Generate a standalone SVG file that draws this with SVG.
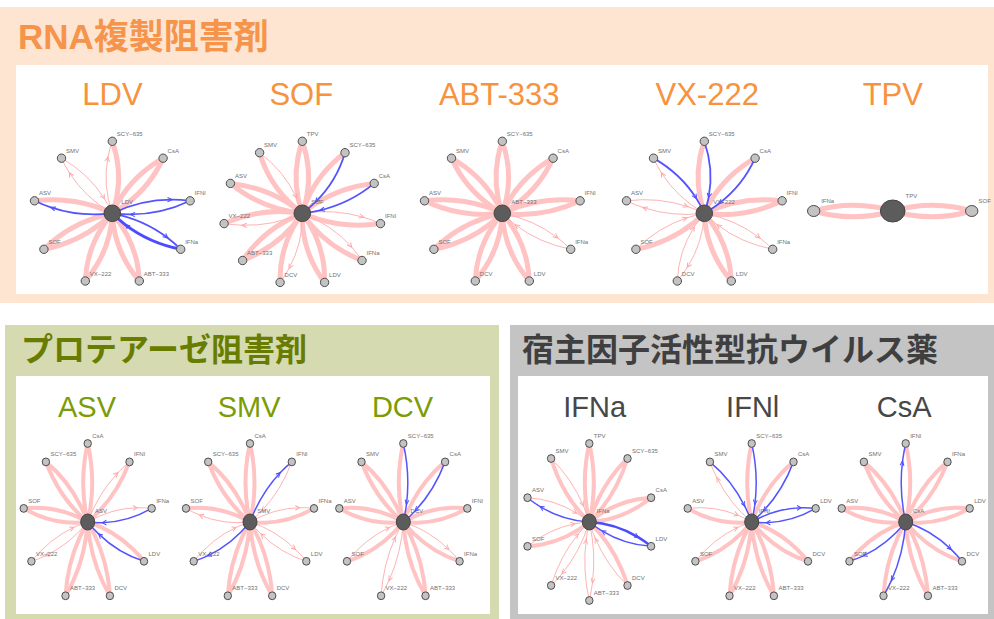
<svg xmlns="http://www.w3.org/2000/svg" width="994" height="619" viewBox="0 0 994 619">
<style>
.sec{font-family:"Liberation Sans","Noto Sans CJK JP",sans-serif;font-weight:bold}
.h{font-family:"Liberation Sans",sans-serif;text-anchor:middle}
.ho{fill:#f7923f;font-size:31px}
.hg{fill:#7c9c05;font-size:29px}
.hk{fill:#474747;font-size:29px}
.a{stroke:#ffc3c3;stroke-width:5}
.b{stroke:#ffb3b3;stroke-width:1;marker-mid:url(#mp)}
.c{stroke:#5454ff;stroke-width:1.8;marker-mid:url(#mb)}
.d{stroke:#4c4cff;stroke-width:3;marker-mid:url(#mb)}
.bot .a{stroke-width:4}
.bot .c{stroke-width:1.5}
.bot .d{stroke-width:2.5}
.pn{fill:#c3c3c3;stroke:#4d4d4d;stroke-width:1}
.cn{fill:#5c5c5c;stroke:#454545;stroke-width:1}
.nl{font-family:"Liberation Sans",sans-serif;font-size:6px;fill:#707070}
</style>
<defs>
<path id="o" d="M0,0 Q-9.36,-29.25 -4.12,-58.5 Q-2.64,-66.75 0,-75" fill="none" vector-effect="non-scaling-stroke"/>
<path id="i" d="M0,-75 Q9.36,-45.75 4.12,-16.5 Q2.64,-8.25 0,0" fill="none" vector-effect="non-scaling-stroke"/>
<path id="o2" d="M0,0 Q-7.8,-28.08 -3.43,-56.16 Q-2.2,-64.08 0,-72" fill="none" vector-effect="non-scaling-stroke"/>
<path id="i2" d="M0,-72 Q7.8,-43.92 3.43,-15.84 Q2.2,-7.92 0,0" fill="none" vector-effect="non-scaling-stroke"/>
<marker id="mp" markerUnits="userSpaceOnUse" viewBox="-6 -4 8 8" markerWidth="8" markerHeight="8" refX="0" refY="0" orient="auto" overflow="visible"><path d="M-4.5,-2.2 L0,0 L-4.5,2.2" fill="none" stroke="#ffa8a8" stroke-width="1"/></marker>
<marker id="mb" markerUnits="userSpaceOnUse" viewBox="-6 -4 8 8" markerWidth="8" markerHeight="8" refX="0" refY="0" orient="auto" overflow="visible"><path d="M-4.5,-2.2 L0,0 L-4.5,2.2" fill="none" stroke="#4c4cff" stroke-width="1"/></marker>
</defs>

<g id="panels">
<rect x="0" y="7" width="994" height="296" fill="#fde5d1"/>
<rect x="16" y="65" width="972" height="229" fill="#ffffff"/>
<rect x="5" y="325" width="494" height="294" fill="#d6dab0"/>
<rect x="16" y="376" width="474" height="238" fill="#ffffff"/>
<rect x="510" y="325" width="484" height="294" fill="#c4c4c4"/>
<rect x="518" y="376" width="470" height="238" fill="#ffffff"/>
</g>

<g id="titles">
<text class="sec" x="18" y="48.5" font-size="35" fill="#f5944a">RNA複製阻害剤</text>
<text class="sec" x="21" y="360.5" font-size="32" fill="#687c00">プロテアーゼ阻害剤</text>
<text class="sec" x="522" y="361" font-size="32" fill="#3f3f3f">宿主因子活性型抗ウイルス薬</text>
<text class="h ho" x="112.5" y="104.5">LDV</text>
<text class="h ho" x="301.3" y="104.5">SOF</text>
<text class="h ho" x="499.2" y="104.5">ABT-333</text>
<text class="h ho" x="707.2" y="104.5">VX-222</text>
<text class="h ho" x="892.8" y="104.5">TPV</text>
<text class="h hg" x="87" y="416.5">ASV</text>
<text class="h hg" x="249.2" y="416.5">SMV</text>
<text class="h hg" x="402.5" y="416.5">DCV</text>
<text class="h hk" x="594.7" y="416.5">IFNa</text>
<text class="h hk" x="752.7" y="416.5">IFNl</text>
<text class="h hk" x="904.2" y="416.5">CsA</text>
</g>

<g id="connectors">
<g id="e-ldv" transform="translate(112.3,213.3) scale(1.0533,0.96)">
<use href="#o" class="a" transform="rotate(40)"/><use href="#i" class="a" transform="rotate(40)"/>
<use href="#i" class="a"/>
<use href="#o" class="a" transform="rotate(160)"/><use href="#i" class="a" transform="rotate(160)"/>
<use href="#o" class="a" transform="rotate(200)"/><use href="#i" class="a" transform="rotate(200)"/>
<use href="#o" class="a" transform="rotate(240)"/><use href="#i" class="a" transform="rotate(240)"/>
<use href="#i" class="a" transform="rotate(280)"/>
<use href="#o" class="b"/>
<use href="#o" class="b" transform="rotate(320)"/><use href="#i" class="b" transform="rotate(320)"/>
<use href="#o" class="c" transform="rotate(80)"/><use href="#i" class="c" transform="rotate(80)"/>
<use href="#o" class="c" transform="rotate(120)"/>
<use href="#o" class="c" transform="rotate(280)"/>
<use href="#i" class="d" transform="rotate(120)"/>
</g>
<g id="e-sof" transform="translate(302.3,213.3) scale(1.0533,0.96)">
<use href="#o" class="a"/><use href="#i" class="a"/>
<use href="#o" class="a" transform="rotate(32.727)"/>
<use href="#o" class="a" transform="rotate(65.455)"/>
<use href="#i" class="a" transform="rotate(98.182)"/>
<use href="#i" class="a" transform="rotate(130.909)"/>
<use href="#o" class="a" transform="rotate(163.636)"/><use href="#i" class="a" transform="rotate(163.636)"/>
<use href="#i" class="a" transform="rotate(196.364)"/>
<use href="#o" class="a" transform="rotate(229.091)"/><use href="#i" class="a" transform="rotate(229.091)"/>
<use href="#i" class="a" transform="rotate(261.818)"/>
<use href="#o" class="a" transform="rotate(294.545)"/><use href="#i" class="a" transform="rotate(294.545)"/>
<use href="#o" class="a" transform="rotate(327.273)"/>
<use href="#o" class="b" transform="rotate(98.182)"/>
<use href="#o" class="b" transform="rotate(130.909)"/>
<use href="#o" class="b" transform="rotate(196.364)"/>
<use href="#o" class="b" transform="rotate(261.818)"/>
<use href="#i" class="b" transform="rotate(327.273)"/>
<use href="#i" class="c" transform="rotate(32.727)"/>
<use href="#i" class="c" transform="rotate(65.455)"/>
</g>
<g id="e-abt" transform="translate(502.3,213.3) scale(1.0533,0.96)">
<use href="#o" class="a"/><use href="#i" class="a"/>
<use href="#o" class="a" transform="rotate(40)"/><use href="#i" class="a" transform="rotate(40)"/>
<use href="#o" class="a" transform="rotate(80)"/><use href="#i" class="a" transform="rotate(80)"/>
<use href="#o" class="a" transform="rotate(160)"/><use href="#i" class="a" transform="rotate(160)"/>
<use href="#o" class="a" transform="rotate(200)"/><use href="#i" class="a" transform="rotate(200)"/>
<use href="#o" class="a" transform="rotate(240)"/><use href="#i" class="a" transform="rotate(240)"/>
<use href="#o" class="a" transform="rotate(280)"/><use href="#i" class="a" transform="rotate(280)"/>
<use href="#o" class="a" transform="rotate(320)"/><use href="#i" class="a" transform="rotate(320)"/>
<use href="#o" class="b" transform="rotate(120)"/><use href="#i" class="b" transform="rotate(120)"/>
</g>
<g id="e-vx" transform="translate(704.3,213.3) scale(1.0533,0.96)">
<use href="#o" class="a"/>
<use href="#o" class="a" transform="rotate(40)"/>
<use href="#o" class="a" transform="rotate(80)"/><use href="#i" class="a" transform="rotate(80)"/>
<use href="#o" class="a" transform="rotate(160)"/><use href="#i" class="a" transform="rotate(160)"/>
<use href="#o" class="a" transform="rotate(240)"/>
<use href="#o" class="b" transform="rotate(120)"/><use href="#i" class="b" transform="rotate(120)"/>
<use href="#o" class="b" transform="rotate(200)"/><use href="#i" class="b" transform="rotate(200)"/>
<use href="#i" class="b" transform="rotate(240)"/>
<use href="#o" class="b" transform="rotate(280)"/><use href="#i" class="b" transform="rotate(280)"/>
<use href="#o" class="b" transform="rotate(320)"/>
<use href="#i" class="c"/>
<use href="#i" class="c" transform="rotate(40)"/>
<use href="#i" class="c" transform="rotate(320)"/>
</g>
<g id="e-tpv" transform="translate(892.7,211) scale(1.0533,0.96)">
<use href="#o" class="a" transform="rotate(270)"/><use href="#i" class="a" transform="rotate(270)"/>
<use href="#o" class="a" transform="rotate(90)"/><use href="#i" class="a" transform="rotate(90)"/>
</g>
<g class="bot">
<g id="e-asv" transform="translate(87.7,522) scale(0.9028,1.0903)">
<use href="#o2" class="a"/><use href="#i2" class="a"/>
<use href="#i2" class="a" transform="rotate(40)"/>
<use href="#o2" class="a" transform="rotate(120)"/>
<use href="#o2" class="a" transform="rotate(160)"/><use href="#i2" class="a" transform="rotate(160)"/>
<use href="#o2" class="a" transform="rotate(200)"/><use href="#i2" class="a" transform="rotate(200)"/>
<use href="#o2" class="a" transform="rotate(280)"/><use href="#i2" class="a" transform="rotate(280)"/>
<use href="#o2" class="a" transform="rotate(320)"/><use href="#i2" class="a" transform="rotate(320)"/>
<use href="#o2" class="b" transform="rotate(40)"/>
<use href="#o2" class="b" transform="rotate(80)"/>
<use href="#o2" class="b" transform="rotate(240)"/><use href="#i2" class="b" transform="rotate(240)"/>
<use href="#i2" class="c" transform="rotate(80)"/>
<use href="#i2" class="c" transform="rotate(120)"/>
</g>
<g id="e-smv" transform="translate(250,522) scale(0.9028,1.0903)">
<use href="#o2" class="a"/><use href="#i2" class="a"/>
<use href="#i2" class="a" transform="rotate(80)"/>
<use href="#o2" class="a" transform="rotate(160)"/><use href="#i2" class="a" transform="rotate(160)"/>
<use href="#o2" class="a" transform="rotate(200)"/><use href="#i2" class="a" transform="rotate(200)"/>
<use href="#i2" class="a" transform="rotate(280)"/>
<use href="#o2" class="a" transform="rotate(320)"/><use href="#i2" class="a" transform="rotate(320)"/>
<use href="#i2" class="b" transform="rotate(40)"/>
<use href="#o2" class="b" transform="rotate(80)"/>
<use href="#o2" class="b" transform="rotate(120)"/><use href="#i2" class="b" transform="rotate(120)"/>
<use href="#i2" class="b" transform="rotate(240)"/>
<use href="#o2" class="b" transform="rotate(280)"/>
<use href="#o2" class="c" transform="rotate(40)"/>
<use href="#o2" class="c" transform="rotate(240)"/>
</g>
<g id="e-dcv" transform="translate(403.3,522) scale(0.9028,1.0903)">
<use href="#o2" class="a"/>
<use href="#o2" class="a" transform="rotate(40)"/>
<use href="#o2" class="a" transform="rotate(80)"/><use href="#i2" class="a" transform="rotate(80)"/>
<use href="#i2" class="a" transform="rotate(120)"/>
<use href="#o2" class="a" transform="rotate(160)"/><use href="#i2" class="a" transform="rotate(160)"/>
<use href="#o2" class="a" transform="rotate(240)"/>
<use href="#o2" class="a" transform="rotate(280)"/><use href="#i2" class="a" transform="rotate(280)"/>
<use href="#o2" class="a" transform="rotate(320)"/><use href="#i2" class="a" transform="rotate(320)"/>
<use href="#o2" class="b" transform="rotate(120)"/>
<use href="#o2" class="b" transform="rotate(200)"/><use href="#i2" class="b" transform="rotate(200)"/>
<use href="#i2" class="b" transform="rotate(240)"/>
<use href="#i2" class="c"/>
<use href="#i2" class="c" transform="rotate(40)"/>
</g>
<g id="e-ifna" transform="translate(589.3,522) scale(0.9028,1.0903)">
<use href="#o2" class="a"/><use href="#i2" class="a"/>
<use href="#o2" class="a" transform="rotate(36)"/><use href="#i2" class="a" transform="rotate(36)"/>
<use href="#o2" class="a" transform="rotate(72)"/><use href="#i2" class="a" transform="rotate(72)"/>
<use href="#o2" class="a" transform="rotate(144)"/>
<use href="#o2" class="a" transform="rotate(252)"/>
<use href="#o2" class="a" transform="rotate(324)"/>
<use href="#i2" class="b" transform="rotate(144)"/>
<use href="#o2" class="b" transform="rotate(180)"/><use href="#i2" class="b" transform="rotate(180)"/>
<use href="#o2" class="b" transform="rotate(216)"/><use href="#i2" class="b" transform="rotate(216)"/>
<use href="#i2" class="b" transform="rotate(252)"/>
<use href="#i2" class="b" transform="rotate(288)"/>
<use href="#i2" class="b" transform="rotate(324)"/>
<use href="#i2" class="c" transform="rotate(108)"/>
<use href="#o2" class="c" transform="rotate(288)"/>
<use href="#o2" class="d" transform="rotate(108)"/>
</g>
<g id="e-ifnl" transform="translate(751.7,522) scale(0.9028,1.0903)">
<use href="#o2" class="a"/>
<use href="#o2" class="a" transform="rotate(40)"/>
<use href="#o2" class="a" transform="rotate(120)"/><use href="#i2" class="a" transform="rotate(120)"/>
<use href="#o2" class="a" transform="rotate(160)"/><use href="#i2" class="a" transform="rotate(160)"/>
<use href="#o2" class="a" transform="rotate(200)"/><use href="#i2" class="a" transform="rotate(200)"/>
<use href="#o2" class="a" transform="rotate(240)"/>
<use href="#o2" class="a" transform="rotate(280)"/>
<use href="#i2" class="b" transform="rotate(240)"/>
<use href="#i2" class="b" transform="rotate(280)"/>
<use href="#o2" class="b" transform="rotate(320)"/>
<use href="#i2" class="c"/>
<use href="#i2" class="c" transform="rotate(40)"/>
<use href="#o2" class="c" transform="rotate(80)"/><use href="#i2" class="c" transform="rotate(80)"/>
<use href="#i2" class="c" transform="rotate(320)"/>
</g>
<g id="e-csa" transform="translate(905.7,522) scale(0.9028,1.0903)">
<use href="#i2" class="a"/>
<use href="#o2" class="a" transform="rotate(40)"/><use href="#i2" class="a" transform="rotate(40)"/>
<use href="#o2" class="a" transform="rotate(80)"/><use href="#i2" class="a" transform="rotate(80)"/>
<use href="#i2" class="a" transform="rotate(120)"/>
<use href="#o2" class="a" transform="rotate(160)"/><use href="#i2" class="a" transform="rotate(160)"/>
<use href="#i2" class="a" transform="rotate(200)"/>
<use href="#i2" class="a" transform="rotate(240)"/>
<use href="#o2" class="a" transform="rotate(280)"/><use href="#i2" class="a" transform="rotate(280)"/>
<use href="#o2" class="a" transform="rotate(320)"/><use href="#i2" class="a" transform="rotate(320)"/>
<use href="#o2" class="c"/>
<use href="#o2" class="c" transform="rotate(120)"/>
<use href="#o2" class="c" transform="rotate(200)"/>
<use href="#o2" class="c" transform="rotate(240)"/>
</g>
</g>
</g>

<g id="nodes-ldv">
<g id="ldv-scy635"><circle class="pn" cx="112.3" cy="141.3" r="4.2"/><text class="nl" x="116.8" y="135.8">SCY−635</text></g>
<g id="ldv-csa"><circle class="pn" cx="163.1" cy="158.2" r="4.2"/><text class="nl" x="167.6" y="152.7">CsA</text></g>
<g id="ldv-ifnl"><circle class="pn" cx="190.1" cy="200.8" r="4.2"/><text class="nl" x="194.6" y="195.3">IFNl</text></g>
<g id="ldv-ifna"><circle class="pn" cx="180.7" cy="249.3" r="4.2"/><text class="nl" x="185.2" y="243.8">IFNa</text></g>
<g id="ldv-abt333"><circle class="pn" cx="139.3" cy="281" r="4.2"/><text class="nl" x="143.8" y="275.5">ABT−333</text></g>
<g id="ldv-vx222"><circle class="pn" cx="85.3" cy="281" r="4.2"/><text class="nl" x="89.8" y="275.5">VX−222</text></g>
<g id="ldv-sof"><circle class="pn" cx="43.9" cy="249.3" r="4.2"/><text class="nl" x="48.4" y="243.8">SOF</text></g>
<g id="ldv-asv"><circle class="pn" cx="34.5" cy="200.8" r="4.2"/><text class="nl" x="39" y="195.3">ASV</text></g>
<g id="ldv-smv"><circle class="pn" cx="61.5" cy="158.2" r="4.2"/><text class="nl" x="66" y="152.7">SMV</text></g>
<g id="ldv-center"><circle class="cn" cx="112.3" cy="213.3" r="8.3"/><text class="nl" x="121.3" y="203.8">LDV</text></g>
</g>

<g id="nodes-sof">
<g id="sof-tpv"><circle class="pn" cx="302.3" cy="141.3" r="4.2"/><text class="nl" x="306.8" y="135.8">TPV</text></g>
<g id="sof-scy635"><circle class="pn" cx="345" cy="152.7" r="4.2"/><text class="nl" x="349.5" y="147.2">SCY−635</text></g>
<g id="sof-csa"><circle class="pn" cx="374.2" cy="183.4" r="4.2"/><text class="nl" x="378.7" y="177.9">CsA</text></g>
<g id="sof-ifnl"><circle class="pn" cx="380.5" cy="223.6" r="4.2"/><text class="nl" x="385" y="218.1">IFNl</text></g>
<g id="sof-ifna"><circle class="pn" cx="362" cy="260.5" r="4.2"/><text class="nl" x="366.5" y="255">IFNa</text></g>
<g id="sof-ldv"><circle class="pn" cx="324.6" cy="282.4" r="4.2"/><text class="nl" x="329.1" y="276.9">LDV</text></g>
<g id="sof-dcv"><circle class="pn" cx="280.1" cy="282.4" r="4.2"/><text class="nl" x="284.6" y="276.9">DCV</text></g>
<g id="sof-abt333"><circle class="pn" cx="242.6" cy="260.5" r="4.2"/><text class="nl" x="247.1" y="255">ABT−333</text></g>
<g id="sof-vx222"><circle class="pn" cx="224.1" cy="223.6" r="4.2"/><text class="nl" x="228.6" y="218.1">VX−222</text></g>
<g id="sof-asv"><circle class="pn" cx="230.4" cy="183.4" r="4.2"/><text class="nl" x="234.9" y="177.9">ASV</text></g>
<g id="sof-smv"><circle class="pn" cx="259.6" cy="152.7" r="4.2"/><text class="nl" x="264.1" y="147.2">SMV</text></g>
<g id="sof-center"><circle class="cn" cx="302.3" cy="213.3" r="8.3"/><text class="nl" x="311.3" y="203.8">SOF</text></g>
</g>

<g id="nodes-abt">
<g id="abt-scy635"><circle class="pn" cx="502.3" cy="141.3" r="4.2"/><text class="nl" x="506.8" y="135.8">SCY−635</text></g>
<g id="abt-csa"><circle class="pn" cx="553.1" cy="158.2" r="4.2"/><text class="nl" x="557.6" y="152.7">CsA</text></g>
<g id="abt-ifnl"><circle class="pn" cx="580.1" cy="200.8" r="4.2"/><text class="nl" x="584.6" y="195.3">IFNl</text></g>
<g id="abt-ifna"><circle class="pn" cx="570.7" cy="249.3" r="4.2"/><text class="nl" x="575.2" y="243.8">IFNa</text></g>
<g id="abt-ldv"><circle class="pn" cx="529.3" cy="281" r="4.2"/><text class="nl" x="533.8" y="275.5">LDV</text></g>
<g id="abt-dcv"><circle class="pn" cx="475.3" cy="281" r="4.2"/><text class="nl" x="479.8" y="275.5">DCV</text></g>
<g id="abt-sof"><circle class="pn" cx="433.9" cy="249.3" r="4.2"/><text class="nl" x="438.4" y="243.8">SOF</text></g>
<g id="abt-asv"><circle class="pn" cx="424.5" cy="200.8" r="4.2"/><text class="nl" x="429" y="195.3">ASV</text></g>
<g id="abt-smv"><circle class="pn" cx="451.5" cy="158.2" r="4.2"/><text class="nl" x="456" y="152.7">SMV</text></g>
<g id="abt-center"><circle class="cn" cx="502.3" cy="213.3" r="8.3"/><text class="nl" x="511.3" y="203.8">ABT−333</text></g>
</g>

<g id="nodes-vx">
<g id="vx-scy635"><circle class="pn" cx="704.3" cy="141.3" r="4.2"/><text class="nl" x="708.8" y="135.8">SCY−635</text></g>
<g id="vx-csa"><circle class="pn" cx="755.1" cy="158.2" r="4.2"/><text class="nl" x="759.6" y="152.7">CsA</text></g>
<g id="vx-ifnl"><circle class="pn" cx="782.1" cy="200.8" r="4.2"/><text class="nl" x="786.6" y="195.3">IFNl</text></g>
<g id="vx-ifna"><circle class="pn" cx="772.7" cy="249.3" r="4.2"/><text class="nl" x="777.2" y="243.8">IFNa</text></g>
<g id="vx-ldv"><circle class="pn" cx="731.3" cy="281" r="4.2"/><text class="nl" x="735.8" y="275.5">LDV</text></g>
<g id="vx-dcv"><circle class="pn" cx="677.3" cy="281" r="4.2"/><text class="nl" x="681.8" y="275.5">DCV</text></g>
<g id="vx-sof"><circle class="pn" cx="635.9" cy="249.3" r="4.2"/><text class="nl" x="640.4" y="243.8">SOF</text></g>
<g id="vx-asv"><circle class="pn" cx="626.5" cy="200.8" r="4.2"/><text class="nl" x="631" y="195.3">ASV</text></g>
<g id="vx-smv"><circle class="pn" cx="653.5" cy="158.2" r="4.2"/><text class="nl" x="658" y="152.7">SMV</text></g>
<g id="vx-center"><circle class="cn" cx="704.3" cy="213.3" r="8.3"/><text class="nl" x="713.3" y="203.8">VX−222</text></g>
</g>

<g id="nodes-tpv">
<g id="tpv-ifna"><ellipse class="pn" cx="813.7" cy="211" rx="6.2" ry="5.5"/><text class="nl" x="821.2" y="203.3">IFNa</text></g>
<g id="tpv-sof"><ellipse class="pn" cx="971.7" cy="211" rx="6.2" ry="5.5"/><text class="nl" x="978.5" y="203.3">SOF</text></g>
<g id="tpv-center"><ellipse class="cn" cx="892.7" cy="211" rx="12.3" ry="11"/><text class="nl" x="905.5" y="198">TPV</text></g>
</g>

<g id="nodes-asv">
<g id="asv-csa"><ellipse class="pn" cx="87.7" cy="443.5" rx="3.7" ry="3.9"/><text class="nl" x="92.2" y="438">CsA</text></g>
<g id="asv-ifnl"><ellipse class="pn" cx="129.5" cy="461.9" rx="3.7" ry="3.9"/><text class="nl" x="134" y="456.4">IFNl</text></g>
<g id="asv-ifna"><ellipse class="pn" cx="151.7" cy="508.4" rx="3.7" ry="3.9"/><text class="nl" x="156.2" y="502.9">IFNa</text></g>
<g id="asv-ldv"><ellipse class="pn" cx="144" cy="561.3" rx="3.7" ry="3.9"/><text class="nl" x="148.5" y="555.8">LDV</text></g>
<g id="asv-dcv"><ellipse class="pn" cx="109.9" cy="595.8" rx="3.7" ry="3.9"/><text class="nl" x="114.4" y="590.3">DCV</text></g>
<g id="asv-abt333"><ellipse class="pn" cx="65.5" cy="595.8" rx="3.7" ry="3.9"/><text class="nl" x="70" y="590.3">ABT−333</text></g>
<g id="asv-vx222"><ellipse class="pn" cx="31.4" cy="561.3" rx="3.7" ry="3.9"/><text class="nl" x="35.9" y="555.8">VX−222</text></g>
<g id="asv-sof"><ellipse class="pn" cx="23.7" cy="508.4" rx="3.7" ry="3.9"/><text class="nl" x="28.2" y="502.9">SOF</text></g>
<g id="asv-scy635"><ellipse class="pn" cx="45.9" cy="461.9" rx="3.7" ry="3.9"/><text class="nl" x="50.4" y="456.4">SCY−635</text></g>
<g id="asv-center"><ellipse class="cn" cx="87.7" cy="522" rx="7" ry="8"/><text class="nl" x="95" y="512.7">ASV</text></g>
</g>

<g id="nodes-smv">
<g id="smv-csa"><ellipse class="pn" cx="250" cy="443.5" rx="3.7" ry="3.9"/><text class="nl" x="254.5" y="438">CsA</text></g>
<g id="smv-ifnl"><ellipse class="pn" cx="291.8" cy="461.9" rx="3.7" ry="3.9"/><text class="nl" x="296.3" y="456.4">IFNl</text></g>
<g id="smv-ifna"><ellipse class="pn" cx="314" cy="508.4" rx="3.7" ry="3.9"/><text class="nl" x="318.5" y="502.9">IFNa</text></g>
<g id="smv-ldv"><ellipse class="pn" cx="306.3" cy="561.3" rx="3.7" ry="3.9"/><text class="nl" x="310.8" y="555.8">LDV</text></g>
<g id="smv-dcv"><ellipse class="pn" cx="272.2" cy="595.8" rx="3.7" ry="3.9"/><text class="nl" x="276.7" y="590.3">DCV</text></g>
<g id="smv-abt333"><ellipse class="pn" cx="227.8" cy="595.8" rx="3.7" ry="3.9"/><text class="nl" x="232.3" y="590.3">ABT−333</text></g>
<g id="smv-vx222"><ellipse class="pn" cx="193.7" cy="561.3" rx="3.7" ry="3.9"/><text class="nl" x="198.2" y="555.8">VX−222</text></g>
<g id="smv-sof"><ellipse class="pn" cx="186" cy="508.4" rx="3.7" ry="3.9"/><text class="nl" x="190.5" y="502.9">SOF</text></g>
<g id="smv-scy635"><ellipse class="pn" cx="208.2" cy="461.9" rx="3.7" ry="3.9"/><text class="nl" x="212.7" y="456.4">SCY−635</text></g>
<g id="smv-center"><ellipse class="cn" cx="250" cy="522" rx="7" ry="8"/><text class="nl" x="257.3" y="512.7">SMV</text></g>
</g>

<g id="nodes-dcv">
<g id="dcv-scy635"><ellipse class="pn" cx="403.3" cy="443.5" rx="3.7" ry="3.9"/><text class="nl" x="407.8" y="438">SCY−635</text></g>
<g id="dcv-csa"><ellipse class="pn" cx="445.1" cy="461.9" rx="3.7" ry="3.9"/><text class="nl" x="449.6" y="456.4">CsA</text></g>
<g id="dcv-ifnl"><ellipse class="pn" cx="467.3" cy="508.4" rx="3.7" ry="3.9"/><text class="nl" x="471.8" y="502.9">IFNl</text></g>
<g id="dcv-ifna"><ellipse class="pn" cx="459.6" cy="561.3" rx="3.7" ry="3.9"/><text class="nl" x="464.1" y="555.8">IFNa</text></g>
<g id="dcv-abt333"><ellipse class="pn" cx="425.5" cy="595.8" rx="3.7" ry="3.9"/><text class="nl" x="430" y="590.3">ABT−333</text></g>
<g id="dcv-vx222"><ellipse class="pn" cx="381.1" cy="595.8" rx="3.7" ry="3.9"/><text class="nl" x="385.6" y="590.3">VX−222</text></g>
<g id="dcv-sof"><ellipse class="pn" cx="347" cy="561.3" rx="3.7" ry="3.9"/><text class="nl" x="351.5" y="555.8">SOF</text></g>
<g id="dcv-asv"><ellipse class="pn" cx="339.3" cy="508.4" rx="3.7" ry="3.9"/><text class="nl" x="343.8" y="502.9">ASV</text></g>
<g id="dcv-smv"><ellipse class="pn" cx="361.5" cy="461.9" rx="3.7" ry="3.9"/><text class="nl" x="366" y="456.4">SMV</text></g>
<g id="dcv-center"><ellipse class="cn" cx="403.3" cy="522" rx="7" ry="8"/><text class="nl" x="410.6" y="512.7">DCV</text></g>
</g>

<g id="nodes-ifna">
<g id="ifna-tpv"><ellipse class="pn" cx="589.3" cy="443.5" rx="3.7" ry="3.9"/><text class="nl" x="593.8" y="438">TPV</text></g>
<g id="ifna-scy635"><ellipse class="pn" cx="627.5" cy="458.5" rx="3.7" ry="3.9"/><text class="nl" x="632" y="453">SCY−635</text></g>
<g id="ifna-csa"><ellipse class="pn" cx="651.1" cy="497.7" rx="3.7" ry="3.9"/><text class="nl" x="655.6" y="492.2">CsA</text></g>
<g id="ifna-ldv"><ellipse class="pn" cx="651.1" cy="546.3" rx="3.7" ry="3.9"/><text class="nl" x="655.6" y="540.8">LDV</text></g>
<g id="ifna-dcv"><ellipse class="pn" cx="627.5" cy="585.5" rx="3.7" ry="3.9"/><text class="nl" x="632" y="580">DCV</text></g>
<g id="ifna-abt333"><ellipse class="pn" cx="589.3" cy="600.5" rx="3.7" ry="3.9"/><text class="nl" x="593.8" y="595">ABT−333</text></g>
<g id="ifna-vx222"><ellipse class="pn" cx="551.1" cy="585.5" rx="3.7" ry="3.9"/><text class="nl" x="555.6" y="580">VX−222</text></g>
<g id="ifna-sof"><ellipse class="pn" cx="527.5" cy="546.3" rx="3.7" ry="3.9"/><text class="nl" x="532" y="540.8">SOF</text></g>
<g id="ifna-asv"><ellipse class="pn" cx="527.5" cy="497.7" rx="3.7" ry="3.9"/><text class="nl" x="532" y="492.2">ASV</text></g>
<g id="ifna-smv"><ellipse class="pn" cx="551.1" cy="458.5" rx="3.7" ry="3.9"/><text class="nl" x="555.6" y="453">SMV</text></g>
<g id="ifna-center"><ellipse class="cn" cx="589.3" cy="522" rx="7" ry="8"/><text class="nl" x="596.6" y="512.7">IFNa</text></g>
</g>

<g id="nodes-ifnl">
<g id="ifnl-scy635"><ellipse class="pn" cx="751.7" cy="443.5" rx="3.7" ry="3.9"/><text class="nl" x="756.2" y="438">SCY−635</text></g>
<g id="ifnl-csa"><ellipse class="pn" cx="793.5" cy="461.9" rx="3.7" ry="3.9"/><text class="nl" x="798" y="456.4">CsA</text></g>
<g id="ifnl-ldv"><ellipse class="pn" cx="815.7" cy="508.4" rx="3.7" ry="3.9"/><text class="nl" x="820.2" y="502.9">LDV</text></g>
<g id="ifnl-dcv"><ellipse class="pn" cx="808" cy="561.3" rx="3.7" ry="3.9"/><text class="nl" x="812.5" y="555.8">DCV</text></g>
<g id="ifnl-abt333"><ellipse class="pn" cx="773.9" cy="595.8" rx="3.7" ry="3.9"/><text class="nl" x="778.4" y="590.3">ABT−333</text></g>
<g id="ifnl-vx222"><ellipse class="pn" cx="729.5" cy="595.8" rx="3.7" ry="3.9"/><text class="nl" x="734" y="590.3">VX−222</text></g>
<g id="ifnl-sof"><ellipse class="pn" cx="695.4" cy="561.3" rx="3.7" ry="3.9"/><text class="nl" x="699.9" y="555.8">SOF</text></g>
<g id="ifnl-asv"><ellipse class="pn" cx="687.7" cy="508.4" rx="3.7" ry="3.9"/><text class="nl" x="692.2" y="502.9">ASV</text></g>
<g id="ifnl-smv"><ellipse class="pn" cx="709.9" cy="461.9" rx="3.7" ry="3.9"/><text class="nl" x="714.4" y="456.4">SMV</text></g>
<g id="ifnl-center"><ellipse class="cn" cx="751.7" cy="522" rx="7" ry="8"/><text class="nl" x="759" y="512.7">IFNl</text></g>
</g>

<g id="nodes-csa">
<g id="csa-ifnl"><ellipse class="pn" cx="905.7" cy="443.5" rx="3.7" ry="3.9"/><text class="nl" x="910.2" y="438">IFNl</text></g>
<g id="csa-ifna"><ellipse class="pn" cx="947.5" cy="461.9" rx="3.7" ry="3.9"/><text class="nl" x="952" y="456.4">IFNa</text></g>
<g id="csa-ldv"><ellipse class="pn" cx="969.7" cy="508.4" rx="3.7" ry="3.9"/><text class="nl" x="974.2" y="502.9">LDV</text></g>
<g id="csa-dcv"><ellipse class="pn" cx="962" cy="561.3" rx="3.7" ry="3.9"/><text class="nl" x="966.5" y="555.8">DCV</text></g>
<g id="csa-abt333"><ellipse class="pn" cx="927.9" cy="595.8" rx="3.7" ry="3.9"/><text class="nl" x="932.4" y="590.3">ABT−333</text></g>
<g id="csa-vx222"><ellipse class="pn" cx="883.5" cy="595.8" rx="3.7" ry="3.9"/><text class="nl" x="888" y="590.3">VX−222</text></g>
<g id="csa-sof"><ellipse class="pn" cx="849.4" cy="561.3" rx="3.7" ry="3.9"/><text class="nl" x="853.9" y="555.8">SOF</text></g>
<g id="csa-asv"><ellipse class="pn" cx="841.7" cy="508.4" rx="3.7" ry="3.9"/><text class="nl" x="846.2" y="502.9">ASV</text></g>
<g id="csa-smv"><ellipse class="pn" cx="863.9" cy="461.9" rx="3.7" ry="3.9"/><text class="nl" x="868.4" y="456.4">SMV</text></g>
<g id="csa-center"><ellipse class="cn" cx="905.7" cy="522" rx="7" ry="8"/><text class="nl" x="913" y="512.7">CsA</text></g>
</g>
</svg>
